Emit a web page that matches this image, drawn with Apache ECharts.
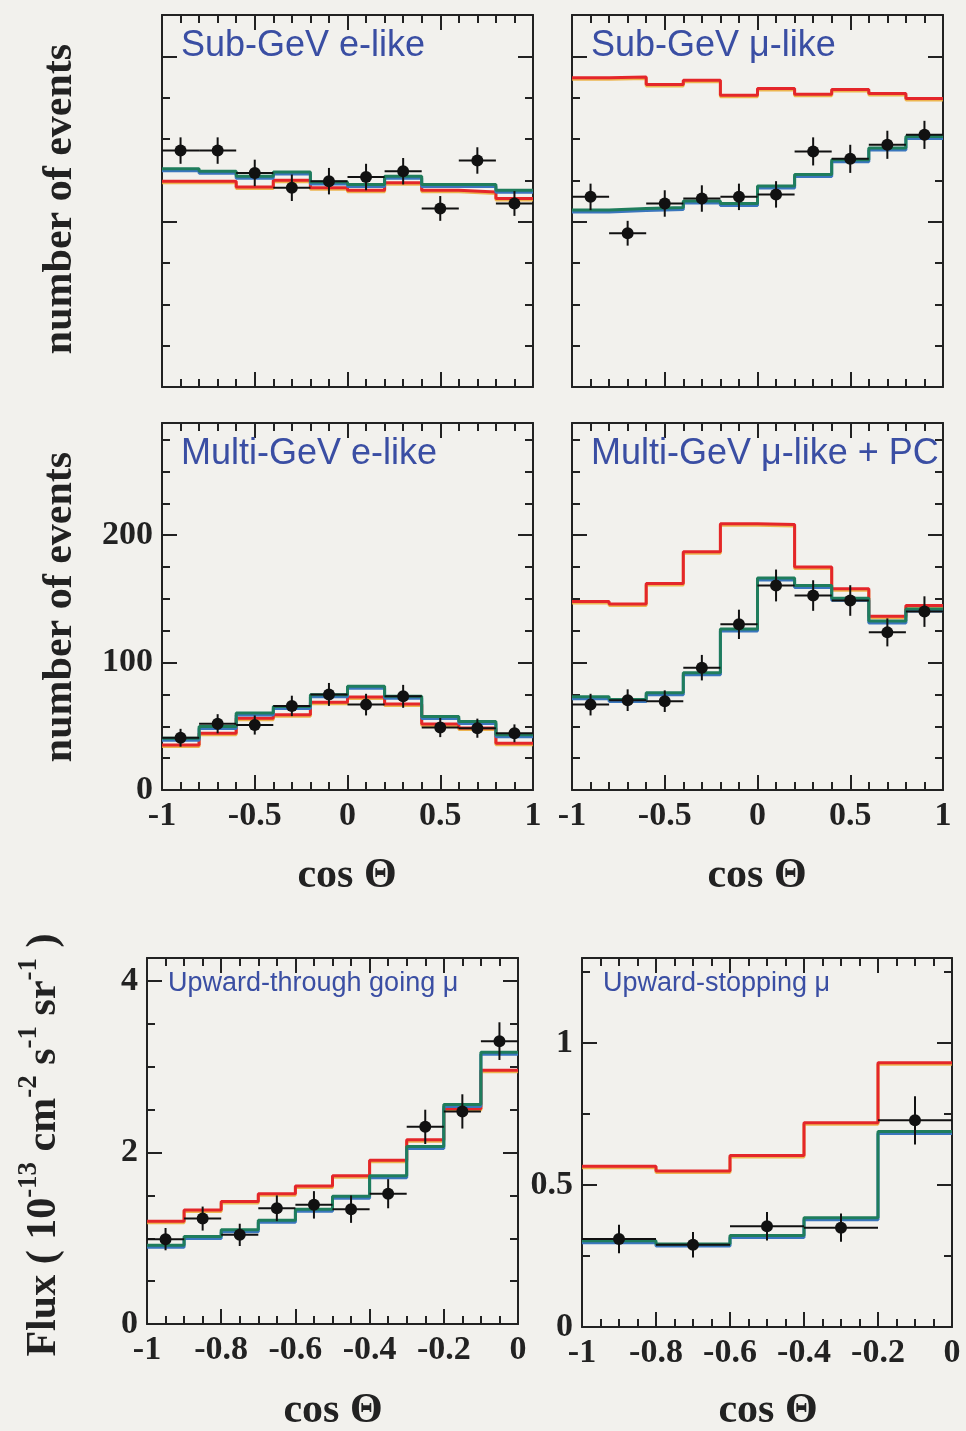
<!DOCTYPE html>
<html lang="en">
<head>
<meta charset="UTF-8">
<title>Zenith angle distributions</title>
<style>
  html, body { margin: 0; padding: 0; background: #f2f1ed; }
  #main { width: 966px; height: 1431px; }
</style>
</head>
<body>
<div id="main"></div>
<script src="https://cdn.jsdelivr.net/npm/echarts@6/dist/echarts.min.js"></script>
<script>
// bin edges / centres in cos(theta)
var edgesFull = [-1, -0.8, -0.6, -0.4, -0.2, 0, 0.2, 0.4, 0.6, 0.8, 1];
var centresFull = [-0.9, -0.7, -0.5, -0.3, -0.1, 0.1, 0.3, 0.5, 0.7, 0.9];
var edgesThru = [-1, -0.9, -0.8, -0.7, -0.6, -0.5, -0.4, -0.3, -0.2, -0.1, 0];
var centresThru = [-0.95, -0.85, -0.75, -0.65, -0.55, -0.45, -0.35, -0.25, -0.15, -0.05];
var edgesStop = [-1, -0.8, -0.6, -0.4, -0.2, 0];
var centresStop = [-0.9, -0.7, -0.5, -0.3, -0.1];

// Sub-GeV e-like (number of events)
var subEData  = [286, 286, 259, 241, 249, 254, 261, 216, 274, 222];
var subEErr   = [16, 16, 16, 16, 16, 16, 16, 15, 16, 15];
var subEOsc   = [264, 261, 255, 260, 248, 245, 255, 245, 245, 238];
var subENoOsc = [249, 249, 242, 250, 241, 238, 247, 238, 236, 228];

// Sub-GeV mu-like
var subMuData  = [230, 186, 222, 228, 230, 233, 285, 276, 293, 305];
var subMuErr   = [16, 15, 16, 16, 16, 16, 17, 17, 17, 17];
var subMuOsc   = [214, 216, 217, 225, 222, 243, 257, 275, 289, 303];
var subMuNoOsc = [374, 375, 366, 371, 353, 361, 354, 360, 355, 349];

// Multi-GeV e-like
var multiEData  = [41, 52, 51, 66, 75, 67, 73.5, 49, 48.5, 44.5];
var multiEErr   = [7, 7.5, 7.5, 8, 9, 8.5, 9, 7.5, 7.5, 7];
var multiEOsc   = [40.7, 49.9, 60.4, 65.6, 74.8, 81.4, 73.5, 57.7, 53.8, 43.3];
var multiENoOsc = [35.4, 44.6, 56.4, 59, 68.8, 73, 67.5, 51.7, 48.6, 36.7];

// Multi-GeV mu-like + PC
var multiMuData  = [67, 70.5, 69.7, 96, 130, 160.5, 152.6, 148.7, 123.7, 140];
var multiMuErr   = [8.5, 8.5, 8.5, 10, 11.5, 12.5, 12, 12, 11, 12];
var multiMuOsc   = [73.2, 71, 76.3, 92, 126.3, 166.3, 160.5, 150.5, 132.6, 142];
var multiMuNoOsc = [148, 146, 162, 187, 209, 208.4, 175, 158, 136.3, 144.7];

// Upward through-going mu (flux, 1e-13 cm^-2 s^-1 sr^-1)
var thruData  = [0.99, 1.23, 1.04, 1.35, 1.39, 1.34, 1.52, 2.30, 2.48, 3.30];
var thruErr   = [0.13, 0.14, 0.13, 0.15, 0.16, 0.16, 0.17, 0.2, 0.2, 0.22];
var thruOsc   = [0.92, 1.02, 1.10, 1.21, 1.34, 1.49, 1.73, 2.07, 2.56, 3.17];
var thruNoOsc = [1.20, 1.33, 1.43, 1.52, 1.61, 1.73, 1.91, 2.15, 2.51, 2.96];

// Upward stopping mu
var stopData  = [0.31, 0.29, 0.355, 0.35, 0.728];
var stopErr   = [0.05, 0.045, 0.05, 0.05, 0.085];
var stopOsc   = [0.304, 0.292, 0.322, 0.385, 0.689];
var stopNoOsc = [0.566, 0.55, 0.604, 0.72, 0.931];

var SERIF = "'Liberation Serif', 'Times New Roman', serif";
var SANS = "'Liberation Sans', Arial, sans-serif";
var INK = '#222';
var TITLE_BLUE = '#3a4ea3';

// x: [min, max, major, minor], y: [min, max, major, minor]
var panels = [
  { title: 'Sub-GeV e-like', tSize: 36, box: [162, 15, 371, 372], x: [-1, 1, 0.5, 0.1], y: [0, 450, 200, 50],
    xLab: false, yLab: false, edges: edgesFull, centres: centresFull,
    data: subEData, err: subEErr, osc: subEOsc, noOsc: subENoOsc },
  { title: 'Sub-GeV \u03bc-like', tSize: 36, box: [572, 15, 371, 372], x: [-1, 1, 0.5, 0.1], y: [0, 450, 200, 50],
    xLab: false, yLab: false, edges: edgesFull, centres: centresFull,
    data: subMuData, err: subMuErr, osc: subMuOsc, noOsc: subMuNoOsc },
  { title: 'Multi-GeV e-like', tSize: 36, box: [162, 423, 371, 367], x: [-1, 1, 0.5, 0.1], y: [0, 288, 100, 25],
    xLab: true, yLab: true, edges: edgesFull, centres: centresFull,
    data: multiEData, err: multiEErr, osc: multiEOsc, noOsc: multiENoOsc },
  { title: 'Multi-GeV \u03bc-like + PC', tSize: 36, box: [572, 423, 371, 367], x: [-1, 1, 0.5, 0.1], y: [0, 288, 100, 25],
    xLab: true, yLab: false, edges: edgesFull, centres: centresFull,
    data: multiMuData, err: multiMuErr, osc: multiMuOsc, noOsc: multiMuNoOsc },
  { title: 'Upward-through going \u03bc', tSize: 27, box: [147, 958, 371, 366], x: [-1, 0, 0.2, 0.05], y: [0, 4.27, 2, 0.5],
    xLab: true, yLab: true, edges: edgesThru, centres: centresThru,
    data: thruData, err: thruErr, osc: thruOsc, noOsc: thruNoOsc },
  { title: 'Upward-stopping \u03bc', tSize: 27, box: [582, 958, 370, 369], x: [-1, 0, 0.2, 0.05], y: [0, 1.3, 0.5, 0.25],
    xLab: true, yLab: true, edges: edgesStop, centres: centresStop,
    data: stopData, err: stopErr, osc: stopOsc, noOsc: stopNoOsc }
];

function fmt(v) { return String(+(+v).toFixed(2)); }

function axis(gi, pos, lo, hi, step, len, line, label) {
  return {
    type: 'value', gridIndex: gi, position: pos,
    min: lo, max: hi, interval: step,
    axisLine: { show: line, onZero: false, lineStyle: { color: INK, width: 2 } },
    axisTick: { show: true, inside: true, length: len, lineStyle: { color: INK, width: 2 } },
    axisLabel: label ? {
      show: true, margin: 9, color: INK, fontFamily: SERIF, fontWeight: 'bold', fontSize: 34,
      showMaxLabel: pos === 'bottom', formatter: fmt
    } : { show: false },
    splitLine: { show: false }
  };
}

function histo(edges, vals) {
  var pts = vals.map(function (v, i) { return [edges[i], v]; });
  pts.push([edges[edges.length - 1], vals[vals.length - 1]]);
  return pts;
}

function errorItem(params, api) {
  var x = api.value(0), y = api.value(1), dx = api.value(2), dy = api.value(3);
  var c = api.coord([x, y]);
  var l = api.coord([x - dx, y]), r = api.coord([x + dx, y]);
  var t = api.coord([x, y + dy]), b = api.coord([x, y - dy]);
  return {
    type: 'group',
    children: [
      { type: 'line', shape: { x1: l[0], y1: l[1], x2: r[0], y2: r[1] }, style: { stroke: '#111', lineWidth: 2 } },
      { type: 'line', shape: { x1: t[0], y1: t[1], x2: b[0], y2: b[1] }, style: { stroke: '#111', lineWidth: 2 } },
      { type: 'circle', shape: { cx: c[0], cy: c[1], r: 6 }, style: { fill: '#111' } }
    ]
  };
}

var grids = [], xAxes = [], yAxes = [], series = [], graphics = [];

panels.forEach(function (p, gi) {
  grids.push({ left: p.box[0], top: p.box[1], width: p.box[2], height: p.box[3] });
  xAxes.push(axis(gi, 'bottom', p.x[0], p.x[1], p.x[2], 15, true, p.xLab));
  xAxes.push(axis(gi, 'bottom', p.x[0], p.x[1], p.x[3], 8, false, false));
  xAxes.push(axis(gi, 'top', p.x[0], p.x[1], p.x[2], 15, true, false));
  xAxes.push(axis(gi, 'top', p.x[0], p.x[1], p.x[3], 8, false, false));
  yAxes.push(axis(gi, 'left', p.y[0], p.y[1], p.y[2], 15, true, p.yLab));
  yAxes.push(axis(gi, 'left', p.y[0], p.y[1], p.y[3], 8, false, false));
  yAxes.push(axis(gi, 'right', p.y[0], p.y[1], p.y[2], 15, true, false));
  yAxes.push(axis(gi, 'right', p.y[0], p.y[1], p.y[3], 8, false, false));

  var ax = gi * 4;
  series.push({
    type: 'line', xAxisIndex: ax, yAxisIndex: ax, step: 'end', symbol: 'none', silent: true, z: 3,
    data: histo(p.edges, p.noOsc),
    lineStyle: { color: '#e4262a', width: 3, shadowColor: 'rgba(236,170,50,0.85)', shadowOffsetY: 1.5, shadowBlur: 0 }
  });
  series.push({
    type: 'line', xAxisIndex: ax, yAxisIndex: ax, step: 'end', symbol: 'none', silent: true, z: 4,
    data: histo(p.edges, p.osc),
    lineStyle: { color: '#1f7d5c', width: 3, shadowColor: '#3a76bd', shadowOffsetY: 2, shadowBlur: 0 }
  });
  var half = (p.edges[1] - p.edges[0]) / 2;
  series.push({
    type: 'custom', xAxisIndex: ax, yAxisIndex: ax, z: 5, silent: true,
    renderItem: errorItem,
    encode: { x: 0, y: 1 },
    data: p.centres.map(function (c, i) { return [c, p.data[i], half, p.err[i]]; })
  });

  graphics.push({
    type: 'text', x: p.box[0] + (p.tSize > 30 ? 19 : 21), y: p.box[1] + (p.tSize > 30 ? 31 : 26), z: 10,
    style: { text: p.title, fill: TITLE_BLUE, fontFamily: SANS, fontSize: p.tSize, align: 'left', verticalAlign: 'middle' }
  });
});

function label(text, x, y, size, rot) {
  return {
    type: 'text', x: x, y: y, rotation: rot || 0, z: 10,
    style: { text: text, fill: INK, fontFamily: SERIF, fontWeight: 'bold', fontSize: size, align: 'center', verticalAlign: 'middle' }
  };
}

graphics.push(label('number of events', 60, 199, 42, Math.PI / 2));
graphics.push(label('number of events', 60, 607, 42, Math.PI / 2));
graphics.push(label('cos \u0398', 347, 876, 42));
graphics.push(label('cos \u0398', 757, 876, 42));
graphics.push(label('cos \u0398', 333, 1411, 42));
graphics.push(label('cos \u0398', 768, 1411, 42));
graphics.push({
  type: 'text', x: 44, y: 1145, rotation: Math.PI / 2, z: 10,
  style: {
    text: '{m|Flux ( 10}{s|-13}{m| cm}{s|-2}{m| s}{s|-1}{m| sr}{s|-1}{m| )}',
    align: 'center', verticalAlign: 'middle',
    rich: {
      m: { fontFamily: SERIF, fontWeight: 'bold', fontSize: 42, lineHeight: 56, fill: INK },
      s: { fontFamily: SERIF, fontWeight: 'bold', fontSize: 27, lineHeight: 27, fill: INK, verticalAlign: 'top' }
    }
  }
});

var myChart = echarts.init(document.getElementById('main'), null, { renderer: 'canvas' });
myChart.setOption({
  backgroundColor: '#f2f1ed',
  animation: false,
  grid: grids,
  xAxis: xAxes,
  yAxis: yAxes,
  series: series,
  graphic: graphics
});
</script>
</body>
</html>
